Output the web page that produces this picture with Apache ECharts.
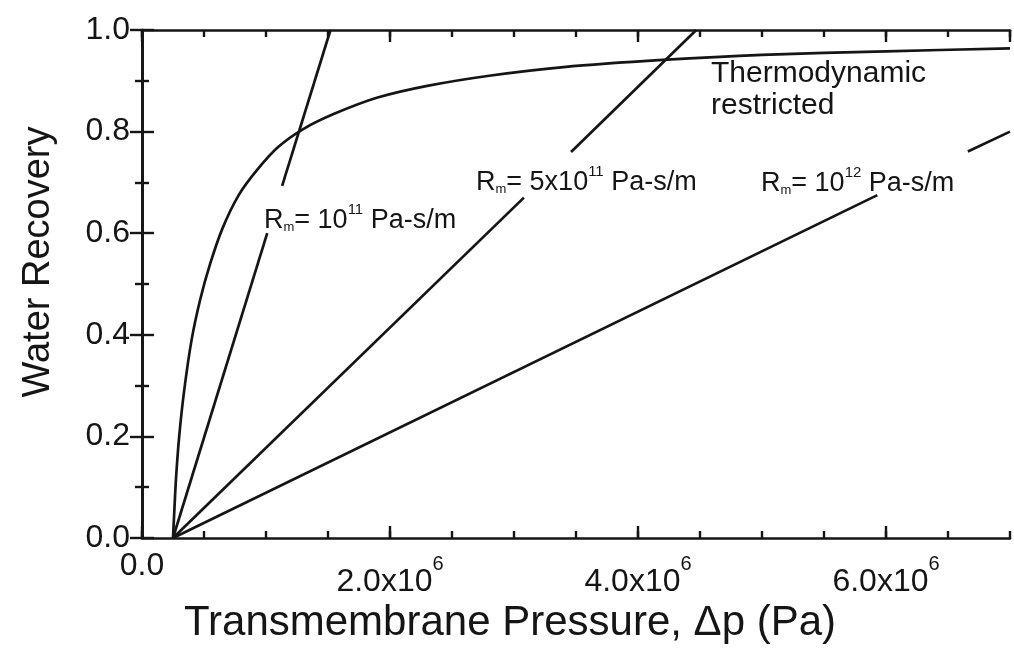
<!DOCTYPE html>
<html><head><meta charset="utf-8">
<script src="https://cdn.jsdelivr.net/npm/echarts@6/dist/echarts.min.js"></script>
<style>html,body{margin:0;padding:0;background:#fff}#c{width:1014px;height:653px}</style>
</head><body><div id="c"></div>
<script>
// ---- data (x in units of 10^6 Pa) ----
const xUnit = 1e6;
const xTickLabels = [[0, '0.0'], [2, '2.0'], [4, '4.0'], [6, '6.0']];
const yTickLabels = ['0.0', '0.2', '0.4', '0.6', '0.8', '1.0'];

const thermoX = [0.25, 0.26, 0.275, 0.30, 0.34, 0.40, 0.47, 0.55, 0.65, 0.78, 0.93, 1.1, 1.3, 1.55, 1.9, 2.3, 2.8, 3.4, 4.2, 5.0, 6.0, 7.0];
const thermoY = [0, 0.05, 0.12, 0.20, 0.29, 0.39, 0.47, 0.54, 0.61, 0.675, 0.725, 0.77, 0.805, 0.835, 0.867, 0.89, 0.91, 0.927, 0.941, 0.951, 0.958, 0.964];

// straight lines, null = gap where the label sits
const rm1e11X = [0.25, 1.01, null, 1.13, 1.52];
const rm1e11Y = [0, 0.60, null, 0.693, 1.0];
const rm5e11X = [0.25, 3.08, null, 3.46, 4.47];
const rm5e11Y = [0, 0.67, null, 0.76, 1.0];
const rm1e12X = [0.25, 5.93, null, 6.66, 7.0];
const rm1e12Y = [0, 0.675, null, 0.761, 0.80];

// ---- build ----
const FONT = 'Liberation Sans, Arial, Helvetica, sans-serif';
const INK = '#151515';

function segments(xs, ys) {
  const out = []; let cur = [];
  xs.forEach((x, i) => {
    if (x === null) { if (cur.length) out.push(cur); cur = []; }
    else cur.push([x * xUnit, ys[i]]);
  });
  if (cur.length) out.push(cur);
  return out;
}
const lineStyle = { color: INK, width: 2.7 };
const series = [];
series.push({ name: 'Thermodynamic restricted', type: 'line', data: thermoX.map((x, i) => [x * xUnit, thermoY[i]]),
  smooth: 0.3, showSymbol: false, lineStyle, silent: true });
[[rm1e11X, rm1e11Y, 'Rm=1e11'], [rm5e11X, rm5e11Y, 'Rm=5e11'], [rm1e12X, rm1e12Y, 'Rm=1e12']].forEach(([xs, ys, nm]) => {
  segments(xs, ys).forEach(seg => series.push({ name: nm, type: 'line', data: seg, showSymbol: false, lineStyle, silent: true }));
});

const axisLineCfg = { show: true, lineStyle: { color: INK, width: 2.7 } };
const xMax = 7 * xUnit;
function xAxisCfg(pos, interval, tickLen, main) {
  return {
    type: 'value', position: pos, min: 0, max: xMax, interval: interval,
    axisLine: main ? axisLineCfg : { show: false },
    axisTick: { show: true, inside: true, length: tickLen, lineStyle: { color: INK, width: 2.4 } },
    splitLine: { show: false },
    axisLabel: { show: false }
  };
}
const xBottom = xAxisCfg('bottom', 2 * xUnit, 12, true);
xBottom.axisLabel = {
  show: true, margin: 16, showMaxLabel: false,
  formatter: v => {
    const hit = xTickLabels.find(t => Math.abs(t[0] * xUnit - v) < 1);
    if (!hit) return '';
    if (hit[0] === 0) return '{z|' + hit[1] + '}';
    return '{b|' + hit[1] + 'x10}{s|6}';
  },
  rich: {
    b: { fontSize: 32, fontFamily: FONT, color: INK, lineHeight: 44, verticalAlign: 'bottom' },
    s: { fontSize: 20, fontFamily: FONT, color: INK, lineHeight: 20, verticalAlign: 'top' },
    z: { fontSize: 32, fontFamily: FONT, color: INK, lineHeight: 25 }
  }
};
xBottom.name = 'Transmembrane Pressure, \u0394p (Pa)';
xBottom.nameLocation = 'middle';
xBottom.nameGap = 54;
xBottom.nameTextStyle = { fontSize: 42, fontFamily: FONT, color: INK, padding: [0, 132, 0, 0] };

function yAxisCfg(pos, main) {
  return {
    type: 'value', position: pos, min: 0, max: 1, interval: 0.2,
    axisLine: axisLineCfg,
    axisTick: { show: true, inside: true, length: 12, lineStyle: { color: INK, width: 2.4 } },
    minorTick: { show: true, splitNumber: 2, length: 7, lineStyle: { color: INK, width: 2.4 } },
    splitLine: { show: false },
    axisLabel: main ? { show: true, margin: 12, fontSize: 32, fontFamily: FONT, color: INK,
      formatter: v => yTickLabels[Math.round(v / 0.2)] } : { show: false }
  };
}
const yLeft = yAxisCfg('left', true);
yLeft.name = 'Water Recovery';
yLeft.nameLocation = 'middle';
yLeft.nameGap = 84;
yLeft.nameTextStyle = { fontSize: 38, fontFamily: FONT, color: INK, padding: [0, 0, 0, 44] };

function label(x, y, parts) {
  return { type: 'text', x: x, y: y, silent: true,
    style: { text: parts, verticalAlign: 'middle', align: 'left',
      rich: {
        b: { fontSize: 27, fontFamily: FONT, fill: INK, lineHeight: 32, verticalAlign: 'bottom' },
        p: { fontSize: 15, fontFamily: FONT, fill: INK, lineHeight: 15, verticalAlign: 'top' },
        m: { fontSize: 13, fontFamily: FONT, fill: INK, lineHeight: 13, verticalAlign: 'bottom' }
      } } };
}

const chart = echarts.init(document.getElementById('c'), null, { renderer: 'canvas' });
chart.setOption({
  backgroundColor: '#ffffff',
  animation: false,
  grid: { left: 142, top: 30, width: 868, height: 508, containLabel: false },
  xAxis: [xBottom, xAxisCfg('bottom', 0.5 * xUnit, 7, false), xAxisCfg('top', 2 * xUnit, 12, true), xAxisCfg('top', 0.5 * xUnit, 7, false)],
  yAxis: [yLeft, yAxisCfg('right', false)],
  series: series,
  graphic: [
    label(264, 218, '{b|R}{m|m}{b|= 10}{p|11}{b| Pa-s/m}'),
    label(476, 180, '{b|R}{m|m}{b|= 5x10}{p|11}{b| Pa-s/m}'),
    label(761, 181, '{b|R}{m|m}{b|= 10}{p|12}{b| Pa-s/m}'),
    { type: 'text', x: 711, y: 58, silent: true,
      style: { text: 'Thermodynamic\nrestricted', fontSize: 30, fontFamily: FONT, fill: INK, lineHeight: 32, verticalAlign: 'top', align: 'left' } }
  ]
});
</script></body></html>
